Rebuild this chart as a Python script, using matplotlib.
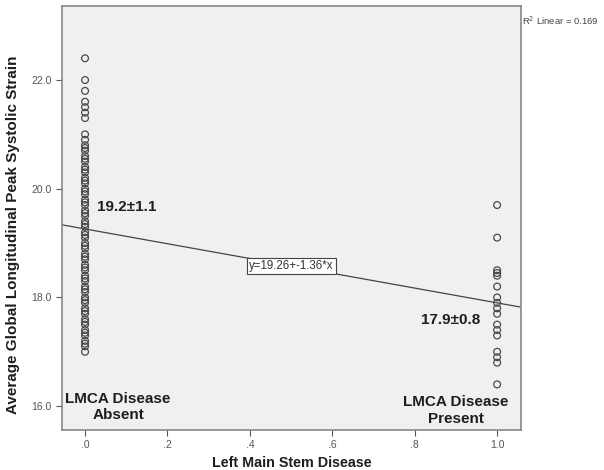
import matplotlib
matplotlib.use("Agg")
import matplotlib.pyplot as plt

# -------------------------------
# Dados
# -------------------------------
absent_strain = [17.0, 17.1, 17.15, 17.2, 17.3, 17.35, 17.4, 17.5, 17.55, 17.6,
                 17.7, 17.75, 17.8, 17.9, 17.95, 18.0, 18.1, 18.15, 18.2, 18.3,
                 18.35, 18.4, 18.5, 18.55, 18.6, 18.7, 18.75, 18.8, 18.9, 18.95,
                 19.0, 19.1, 19.15, 19.2, 19.3, 19.35, 19.4, 19.5, 19.55, 19.6,
                 19.7, 19.75, 19.8, 19.9, 19.95, 20.0, 20.1, 20.15, 20.2, 20.3,
                 20.35, 20.4, 20.5, 20.55, 20.6, 20.7, 20.75, 20.8, 20.9, 21.0,
                 21.3, 21.4, 21.5, 21.6, 21.8, 22.0, 22.4]
present_strain = [19.7, 19.1, 18.5, 18.45, 18.4, 18.2, 18.0, 17.9, 17.8, 17.7,
                  17.5, 17.4, 17.3, 17.0, 16.9, 16.8, 16.4]

intercept = 19.26
slope = -1.36
r2 = 0.169

xticks = [0.0, 0.2, 0.4, 0.6, 0.8, 1.0]
xtick_labels = [".0", ".2", ".4", ".6", ".8", "1.0"]
yticks = [16.0, 18.0, 20.0, 22.0]
ytick_labels = ["16.0", "18.0", "20.0", "22.0"]

plt.rcParams["font.family"] = ["Liberation Sans", "DejaVu Sans"]

fig = plt.figure(figsize=(6.04, 4.70), dpi=100)
ax = fig.add_axes([0.1026, 0.085, 0.76, 0.902])
ax.set_facecolor("#f0f0f0")

xmin, xmax = -0.056, 1.058
ax.set_xlim(xmin, xmax)
ax.set_ylim(15.56, 23.36)

# Pontos
ax.scatter([0.0] * len(absent_strain), absent_strain, s=24, facecolors="none",
           edgecolors="#4a4a4a", linewidths=0.9, zorder=3)
ax.scatter([1.0] * len(present_strain), present_strain, s=24, facecolors="none",
           edgecolors="#4a4a4a", linewidths=0.9, zorder=3)

# Reta de regressão
ax.plot([xmin, xmax], [intercept + slope * xmin, intercept + slope * xmax],
        color="#444444", linewidth=0.9, zorder=2)
ax.text(0.5, intercept + slope * 0.5, "y=19.26+-1.36*x", ha="center", va="center",
        fontsize=8.3, color="#333333", zorder=4,
        bbox=dict(boxstyle="square,pad=0.2", facecolor="white", edgecolor="#444444", linewidth=0.8))

# Anotações
ax.text(0.03, 19.66, "19.2±1.1", fontsize=11, fontweight="bold", ha="left", va="center", color="#1e1e1e")
ax.text(0.959, 17.58, "17.9±0.8", fontsize=11, fontweight="bold", ha="right", va="center", color="#1e1e1e")
ax.text(0.08, 15.99, "LMCA Disease\nAbsent", fontsize=11, fontweight="bold", ha="center", va="center",
        color="#1e1e1e", linespacing=1.2)
ax.text(0.9, 15.92, "LMCA Disease\nPresent", fontsize=11, fontweight="bold", ha="center", va="center",
        color="#1e1e1e", linespacing=1.2)

# Eixos
ax.set_xticks(xticks)
ax.set_xticklabels(xtick_labels)
ax.set_yticks(yticks)
ax.set_yticklabels(ytick_labels)
ax.tick_params(labelsize=7.5, colors="#555555", length=4, width=0.8, direction="out")
for side in ax.spines.values():
    side.set_color("#888888")
    side.set_linewidth(1.2)

ax.set_xlabel("Left Main Stem Disease", fontsize=10.3, fontweight="bold", color="#1e1e1e", labelpad=4)
ax.set_ylabel("Average Global Longitudinal Peak Systolic Strain", fontsize=11, fontweight="bold",
              color="#1e1e1e")
ax.yaxis.set_label_coords(-0.092, 0.46)

fig.text(0.864, 0.955, "R$^2$ Linear = 0.169", fontsize=6.8, color="#444444", ha="left", va="center")

fig.savefig("out.png", dpi=100, facecolor="white")
